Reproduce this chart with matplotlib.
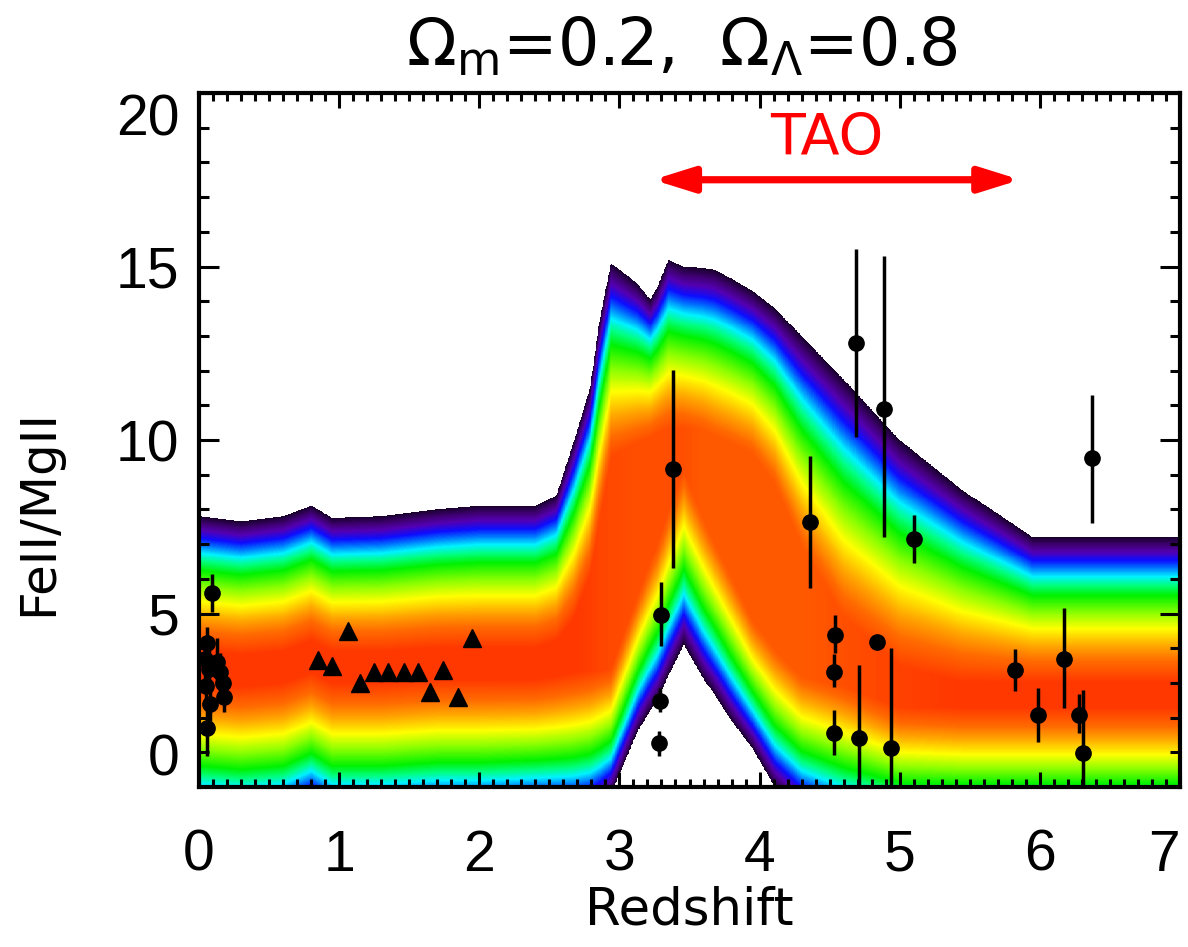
import numpy as np
import matplotlib
matplotlib.use("Agg")
import matplotlib.pyplot as plt
from matplotlib.colors import LinearSegmentedColormap
from matplotlib.patches import FancyArrowPatch

plt.rcParams["mathtext.fontset"] = "dejavusans"

# ---------------- data ----------------
# model band (FeII/MgII vs redshift): outer edges and the high-density core
BAND_Z = [0.0, 0.3, 0.6, 0.8, 0.95, 1.3, 1.7, 2.0, 2.4, 2.55,
          2.67, 2.79, 2.86, 2.94, 3.13, 3.22, 3.27, 3.35, 3.46, 3.6,
          3.68, 3.8, 3.95, 4.11, 4.3, 4.6, 5.0, 5.45, 5.95, 7.0]
BAND_UPPER = [7.8, 7.65, 7.8, 8.1, 7.75, 7.8, 8.0, 8.1, 8.1, 8.4,
              9.9, 11.5, 13.5, 15.1, 14.5, 14.05, 14.4, 15.2, 15.0, 14.95,
              14.9, 14.65, 14.3, 13.8, 13.0, 11.75, 10.0, 8.55, 7.2, 7.2]
BAND_CORE_TOP = [3.9, 3.8, 3.9, 4.2, 3.9, 3.9, 4.0, 4.0, 4.0, 4.2,
                 4.8, 6.0, 7.5, 9.2, 9.6, 9.8, 9.9, 10.0, 10.0, 9.8,
                 9.6, 9.4, 9.1, 8.2, 6.3, 4.4, 3.3, 3.0, 3.0, 3.0]
BAND_CORE_BOT = [3.0, 2.9, 3.0, 3.3, 3.0, 3.0, 3.1, 3.1, 3.1, 3.2,
                 3.3, 3.4, 3.5, 3.6, 5.8, 6.8, 7.3, 8.3, 9.5, 8.2,
                 7.5, 6.5, 5.2, 4.4, 3.6, 3.2, 2.4, 2.3, 2.3, 2.3]
BAND_LOWER = [-1.0, -1.1, -1.0, -0.6, -1.0, -1.0, -0.9, -0.9, -0.8, -0.8,
              -0.8, -0.7, -0.5, -0.2, 1.6, 2.2, 2.5, 3.2, 4.1, 3.1,
              2.65, 1.9, 1.1, 0.0, -0.7, -1.2, -1.4, -1.4, -1.4, -1.4]
BAND_PEAK = [1, 1, 1, 1, 1, 1, 1, 1, 1, 1,
             1, 0.98, 0.96, 0.95, 0.93, 0.93, 0.93, 0.93, 0.93, 0.9,
             0.9, 0.9, 0.9, 0.9, 0.9, 0.93, 0.97, 1, 1, 1]

# low-redshift quasars (circles with error bars)
LOWZ_X = [0.09, 0.06, 0.04, 0.13, 0.15, 0.17, 0.07, 0.05, 0.18, 0.08, 0.06]
LOWZ_Y = [5.6, 4.15, 3.7, 3.6, 3.3, 3.0, 3.4, 2.9, 2.6, 2.4, 1.7]
LOWZ_ERR = [0.55, 0.45, 0.6, 0.7, 0.55, 0.5, 0.6, 0.5, 0.45, 0.5, 0.8]

# composite spectra (triangles)
TRI_X = [0.85, 0.95, 1.06, 1.15, 1.25, 1.35, 1.46, 1.56, 1.65, 1.74, 1.85, 1.95]
TRI_Y = [3.65, 3.5, 4.5, 3.0, 3.3, 3.3, 3.3, 3.3, 2.75, 3.37, 2.6, 4.3]

# high-redshift quasars (circles with asymmetric error bars)
HIZ_X = [3.28, 3.29, 3.30, 3.38, 4.36, 4.53, 4.53, 4.54, 4.69, 4.71,
         4.84, 4.89, 4.94, 5.10, 5.82, 5.99, 6.17, 6.28, 6.31, 6.37]
HIZ_Y = [1.27, 2.48, 4.95, 9.16, 7.64, 1.55, 3.32, 4.38, 12.8, 1.41,
         4.19, 10.9, 1.12, 7.15, 3.37, 2.07, 3.7, 2.07, 0.97, 9.48]
HIZ_ELO = [0.37, 0.33, 0.9, 2.85, 1.9, 0.62, 0.45, 0.53, 2.7, 1.6,
           0.0, 3.7, 1.3, 0.7, 0.6, 0.77, 1.43, 0.5, 1.0, 1.88]
HIZ_EHI = [0.33, 0.37, 0.95, 2.85, 1.9, 0.66, 0.5, 0.57, 2.7, 2.1,
           0.0, 4.4, 2.9, 0.7, 0.6, 0.77, 1.45, 0.6, 1.83, 1.82]

TAO_RANGE = [3.24, 5.86]
TAO_LEVEL = 17.5

XTICKS = [0, 1, 2, 3, 4, 5, 6, 7]
YTICKS = [0, 5, 10, 15, 20]

# ---------------- figure ----------------
fig = plt.figure(figsize=(11.88, 9.47), dpi=100)
ax = fig.add_axes([199 / 1188, 1 - 787 / 947, 981 / 1188, 694 / 947])

band_cmap = LinearSegmentedColormap.from_list("band", [
    (0.00, (0.10, 0.00, 0.18)),
    (0.05, (0.25, 0.00, 0.45)),
    (0.10, (0.33, 0.00, 0.70)),
    (0.16, (0.05, 0.05, 1.00)),
    (0.21, (0.00, 0.45, 1.00)),
    (0.27, (0.00, 0.95, 1.00)),
    (0.33, (0.00, 1.00, 0.50)),
    (0.40, (0.00, 0.95, 0.00)),
    (0.52, (0.55, 1.00, 0.00)),
    (0.63, (1.00, 1.00, 0.00)),
    (0.75, (1.00, 0.65, 0.00)),
    (0.85, (1.00, 0.42, 0.00)),
    (1.00, (1.00, 0.22, 0.00)),
])

gx = np.linspace(0, 7, 1400)
gy = np.linspace(0, 20, 1400)
GX, GY = np.meshgrid(gx, gy)
U = np.interp(gx, BAND_Z, BAND_UPPER)[None, :]
CT = np.interp(gx, BAND_Z, BAND_CORE_TOP)[None, :]
CB = np.interp(gx, BAND_Z, BAND_CORE_BOT)[None, :]
L = np.interp(gx, BAND_Z, BAND_LOWER)[None, :]
PK = np.interp(gx, BAND_Z, BAND_PEAK)[None, :]
t_up = (U - GY) / (U - CT)
t_lo = (GY - L) / (CB - L)
t = np.where(GY > CT, t_up, np.where(GY < CB, t_lo, 1.0))
t = np.clip(t, 0, 1)
t = np.minimum(t, PK)
inside = (GY <= U) & (GY >= L)
rgba = band_cmap(t)
rgba[..., 3] = inside.astype(float)
ax.imshow(rgba, origin="lower", extent=(0, 7, 0, 20), aspect="auto",
          interpolation="nearest", zorder=1)

# data points
ax.errorbar(LOWZ_X, LOWZ_Y, yerr=LOWZ_ERR, fmt="o", color="black",
            ms=11, elinewidth=2.5, capsize=0, zorder=5)
ax.errorbar(HIZ_X, HIZ_Y, yerr=[HIZ_ELO, HIZ_EHI], fmt="o", color="black",
            ms=11, elinewidth=2.5, capsize=0, zorder=5)
ax.plot(TRI_X, TRI_Y, "^", color="black", ms=13, zorder=5)

# TAO arrow
arrow = FancyArrowPatch((TAO_RANGE[0], TAO_LEVEL), (TAO_RANGE[1], TAO_LEVEL),
                        arrowstyle="<|-|>,head_length=2.4,head_width=0.75",
                        mutation_scale=10, color="red", lw=5.2,
                        shrinkA=0, shrinkB=0, zorder=6)
ax.add_patch(arrow)
ax.text(4.48, 18.67, "TAO", color="red", fontsize=41, family="DejaVu Sans",
        ha="center", va="center", zorder=6)

# axes
ax.set_xlim(0, 7)
ax.set_ylim(0, 20)
ax.set_xticks(XTICKS)
ax.set_yticks(YTICKS)
ax.set_xticks(np.arange(0, 7.001, 0.1), minor=True)
ax.set_yticks(np.arange(0, 20.001, 1), minor=True)
ax.tick_params(which="both", direction="in", top=True, right=True,
               width=2.2, colors="black")
ax.tick_params(axis="x", which="major", length=11, pad=30)
ax.tick_params(axis="x", which="minor", length=6)
ax.tick_params(axis="y", which="major", length=14.5, pad=14)
ax.tick_params(axis="y", which="minor", length=7.5)
for lab in ax.get_xticklabels() + ax.get_yticklabels():
    lab.set_family("Liberation Sans")
    lab.set_fontsize(41)
for sp in ax.spines.values():
    sp.set_linewidth(3)
    sp.set_zorder(10)

yt = ax.yaxis.get_major_ticks()
yt[0].label1.set_verticalalignment("bottom")
yt[-1].label1.set_verticalalignment("top")
xt = ax.xaxis.get_major_ticks()
xt[-1].label1.set_horizontalalignment("right")

ax.set_xlabel("Redshift", fontsize=37, family="DejaVu Sans", labelpad=2)
ax.set_ylabel("FeII/MgII", fontsize=36, family="DejaVu Sans")
ax.yaxis.set_label_coords(-0.14, 0.396)

fig.text(0.574, 1 - 65 / 947, r"$\Omega_\mathrm{m}$=0.2,  $\Omega_\Lambda$=0.8",
         fontsize=47, family="DejaVu Sans", ha="center", va="baseline")

fig.savefig("out.png", dpi=100)
